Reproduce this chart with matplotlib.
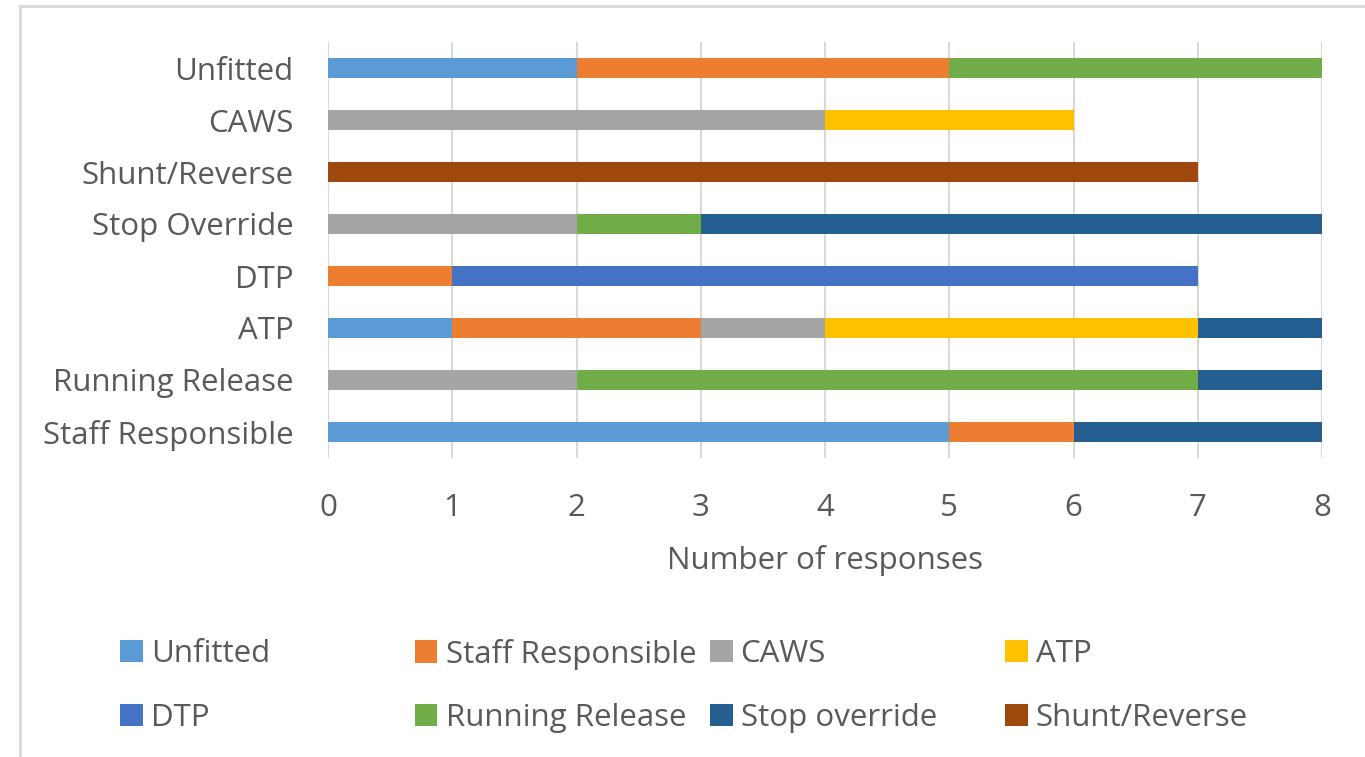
import numpy as np
import matplotlib.pyplot as plt
from matplotlib.lines import Line2D

plt.rcParams['font.family'] = ['Open Sans', 'DejaVu Sans']

# categories, bottom to top
categories = ["Staff Responsible", "Running Release", "ATP", "DTP",
              "Stop Override", "Shunt/Reverse", "CAWS", "Unfitted"]

# series (legend order), one value per category above
unfitted = [5, 0, 1, 0, 0, 0, 0, 2]
staff_responsible = [1, 0, 2, 1, 0, 0, 0, 3]
caws = [0, 2, 1, 0, 2, 0, 4, 0]
atp = [0, 0, 3, 0, 0, 0, 2, 0]
dtp = [0, 0, 0, 6, 0, 0, 0, 0]
running_release = [0, 5, 0, 0, 1, 0, 0, 3]
stop_override = [2, 1, 1, 0, 5, 0, 0, 0]
shunt_reverse = [0, 0, 0, 0, 0, 7, 0, 0]

series_names = ["Unfitted", "Staff Responsible", "CAWS", "ATP",
                "DTP", "Running Release", "Stop override", "Shunt/Reverse"]
series_vals = [unfitted, staff_responsible, caws, atp,
               dtp, running_release, stop_override, shunt_reverse]
colors = ["#5B9BD5", "#ED7D31", "#A5A5A5", "#FFC000",
          "#4472C4", "#70AD47", "#255E91", "#9E480E"]

txt = "#595959"
fs = 22.5
W, H = 1365, 757
fig = plt.figure(figsize=(W / 100, H / 100), dpi=100)
ax = fig.add_axes([328 / W, 1 - 458 / H, (1322 - 328) / W, (458 - 42) / H])

y = np.arange(len(categories))
left = np.zeros(len(categories))
handles = []
for name, vals, c in zip(series_names, series_vals, colors):
    vals = np.array(vals, dtype=float)
    b = ax.barh(y, vals, left=left, height=0.4, color=c, label=name, zorder=3)
    handles.append(b)
    left += vals

ax.set_xlim(0, 8)
ax.set_ylim(-0.5, len(categories) - 0.5)
ax.set_xticks(range(0, 9))
ax.set_yticks(y)
ax.set_yticklabels(categories)
ax.grid(axis='x', color="#D9D9D9", linewidth=1.5, zorder=0)
for s in ax.spines.values():
    s.set_visible(False)
ax.tick_params(axis='y', length=0, pad=25, labelsize=fs, labelcolor=txt)
ax.tick_params(axis='x', length=0, pad=25, labelsize=fs, labelcolor=txt)
ax.set_xlabel("Number of responses", fontsize=fs, color=txt, labelpad=16)

# legend: 4 equal columns, 2 rows
col_x = [120, 415, 710, 1005]
row_y = [654, 718]
for i, (h, name) in enumerate(zip(handles, series_names)):
    cx = col_x[i % 4]
    ry = row_y[i // 4]
    fig.legend([h], [name], loc='center left',
               bbox_to_anchor=(cx / W, 1 - ry / H), frameon=False,
               borderpad=0, borderaxespad=0, handlelength=0.72,
               handleheight=0.72, handletextpad=0.26, fontsize=fs,
               labelcolor=txt)

# chart area border (top and left visible)
fig.add_artist(Line2D([20 / W, 1], [1 - 6 / H, 1 - 6 / H], color="#D9D9D9",
                      linewidth=2, transform=fig.transFigure))
fig.add_artist(Line2D([20 / W, 20 / W], [0, 1 - 6 / H], color="#D9D9D9",
                      linewidth=2, transform=fig.transFigure))

fig.savefig("out.png", dpi=100)
